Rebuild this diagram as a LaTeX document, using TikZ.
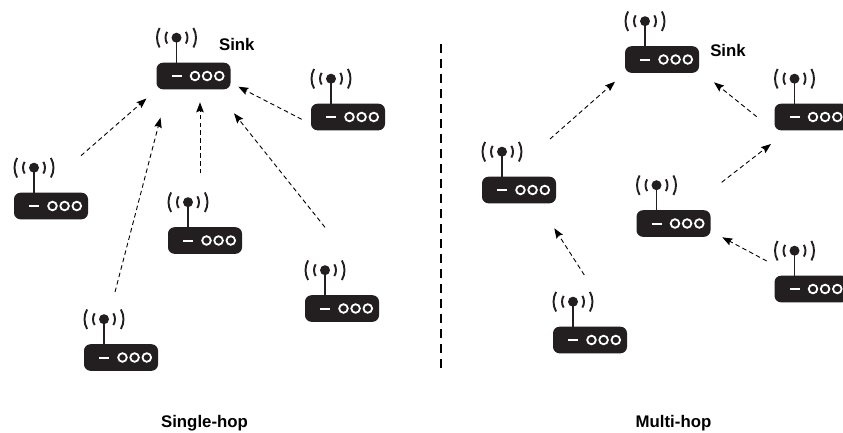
\documentclass[tikz,border=0pt]{standalone}
\usepackage{fontspec}
\setmainfont{Liberation Sans}
\usetikzlibrary{arrows.meta}
\definecolor{routerblack}{HTML}{231F20}
\tikzset{
  routerbody/.style={draw=none, fill=routerblack, rounded corners=6.5pt, inner sep=0pt, minimum width=74pt, minimum height=26.6pt},
  signal/.style={line width=1.9pt, routerblack},
  hop/.style={line width=0.9pt, dash pattern=on 4.5pt off 3.2pt, -{Stealth[length=10pt,width=7.5pt,inset=1.5pt]}},
  caption/.style={font=\bfseries\fontsize{16.8}{18}\selectfont, inner sep=0pt},
  router/.pic={
    \node[routerbody] (-body) at (0,0) {};
    \draw[line width=1.7pt, routerblack] (-17,-38.3) -- (-17,-13);
    \fill[routerblack] (-17,-38.3) circle[radius=5];
    \draw[signal] (-17,-38.3) ++(148:11) arc[start angle=148, end angle=212, radius=11];
    \draw[signal] (-17,-38.3) ++(32:11) arc[start angle=32, end angle=-32, radius=11];
    \draw[signal] (-17,-38.3) ++(150:19.5) arc[start angle=150, end angle=210, radius=19.5];
    \draw[signal] (-17,-38.3) ++(30:19.5) arc[start angle=30, end angle=-30, radius=19.5];
    \draw[line width=2pt, white] (-21.8,0) -- (-11.8,0);
    \draw[line width=1.8pt, white] (1.5,0) circle[radius=4.3];
    \draw[line width=1.8pt, white] (13.6,0) circle[radius=4.3];
    \draw[line width=1.8pt, white] (25.8,0) circle[radius=4.3];
  }
}
\begin{document}
\begin{tikzpicture}[x=1pt, y=-1pt]
  \useasboundingbox (0,0) rectangle (843,432);
  % single-hop side
  \pic (sink) at (193.5,76) {router};
  \pic (sa) at (348,117) {router};
  \pic (sb) at (51,206) {router};
  \pic (sc) at (205,240.5) {router};
  \pic (sd) at (342,308.5) {router};
  \pic (se) at (121,357.5) {router};
  \node[caption] (sinklabel) at (236.8,44.5) {Sink};
  \node[caption] (singlelabel) at (204.5,423) {Single-hop};
  \draw[hop] ([shift={(30,-50.3)}]sb-body.center) -- ([shift={(-47,22.5)}]sink-body.center);
  \draw[hop] ([shift={(-6,-65.5)}]se-body.center) -- ([shift={(-33,41.7)}]sink-body.center);
  \draw[hop] ([shift={(-5,-67.2)}]sc-body.center) -- ([shift={(6.5,26.3)}]sink-body.center);
  \draw[hop] ([shift={(-17,-81.2)}]sd-body.center) -- ([shift={(40.5,37.3)}]sink-body.center);
  \draw[hop] ([shift={(-46.3,2.3)}]sa-body.center) -- ([shift={(44.8,10.7)}]sink-body.center);
  % divider
  \coordinate (divtop) at (441,44);
  \coordinate (divbot) at (441,368);
  \draw[line width=1.9pt, dash pattern=on 8.5pt off 6.5pt] (divtop) -- (divbot);
  % multi-hop side
  \pic (msink) at (662,59.5) {router};
  \pic (ma) at (811.5,117) {router};
  \pic (mb) at (519,190) {router};
  \pic (mc) at (673.5,223.5) {router};
  \pic (md) at (811.5,289) {router};
  \pic (me) at (590,340) {router};
  \node[caption] (msinklabel) at (728,50) {Sink};
  \node[caption] (multilabel) at (673.5,423) {Multi-hop};
  \draw[hop] ([shift={(31,-51)}]mb-body.center) -- ([shift={(-47,22.2)}]msink-body.center);
  \draw[hop] ([shift={(-5.7,-65)}]me-body.center) -- ([shift={(35.3,38.3)}]mb-body.center);
  \draw[hop] ([shift={(48.2,-41.2)}]mc-body.center) -- ([shift={(-40.5,27)}]ma-body.center);
  \draw[hop] ([shift={(-44.8,-28)}]md-body.center) -- ([shift={(48.8,13.8)}]mc-body.center);
  \draw[hop] ([shift={(-54.8,-0.3)}]ma-body.center) -- ([shift={(52,22.8)}]msink-body.center);
\end{tikzpicture}
\end{document}
